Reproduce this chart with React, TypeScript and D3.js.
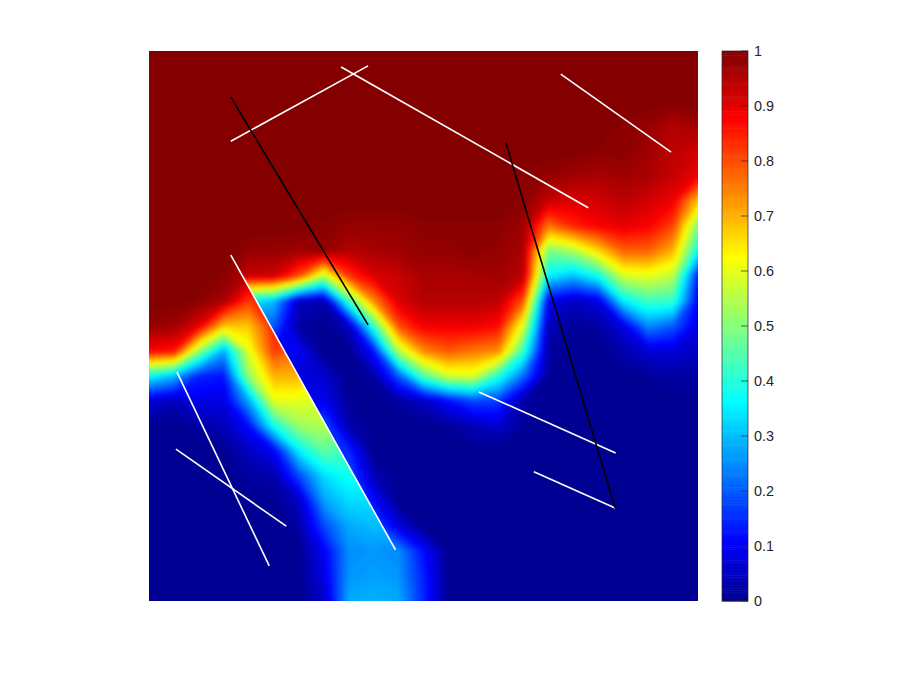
import React from "react";
import * as d3 from "d3";

const W = 900, H = 675;
const PLOT = { left: 149, right: 698, top: 51, bottom: 601 };
const BAR = { left: 722, right: 748 };

// Field sampled on a 23 x 23 grid (percent), right of the long fracture
const mainRows: number[][] = [
  [100,100,100,100,100,100,100,100,100,100,100,100,100,100,100,100,100,100,100,100,100,100,100],
  [100,100,100,100,100,100,100,100,100,100,100,100,100,100,100,100,100,100,100,100,100,100,100],
  [100,100,100,100,100,100,100,100,100,100,100,100,100,100,100,100,100,100,100,100,100,100,100],
  [100,100,100,100,100,100,100,100,100,100,100,100,100,100,100,100,100,100,100,99,98,95,97],
  [100,100,100,100,100,100,100,100,100,100,100,100,100,100,100,100,100,100,99,99,97,94,92],
  [100,100,100,100,100,100,100,100,100,100,100,100,100,100,100,99,98,97,96,97,96,93,89],
  [100,100,100,100,100,100,100,100,100,100,100,100,100,100,100,99,93,91,92,94,92,89,68],
  [100,100,100,100,100,100,100,99,98,98,98,99,99,99,99,97,76,84,88,90,88,81,49],
  [100,100,100,100,98,98,97,98,95,96,97,98,98,99,98,96,49,54,66,78,78,70,37],
  [100,100,100,99,93,92,80,55,82,91,93,96,96,96,97,94,35,30,38,58,60,56,14],
  [10,10,10,12,35,30,5,3,43,74,91,95,95,95,94,79,10,5,8,35,43,42,10],
  [5,5,5,8,22,20,2,0,5,42,80,89,89,89,87,59,4,1,2,8,25,20,8],
  [5,5,5,6,6,10,10,0,0,13,55,74,79,76,74,42,2,0,0,3,7,7,5],
  [5,5,5,5,5,5,8,6,0,2,20,45,58,59,40,22,1,0,0,0,1,2,2],
  [5,5,5,5,5,5,8,10,1,0,2,5,12,18,17,2,0,0,0,0,0,0,0],
  [5,5,5,5,5,5,8,20,3,0,0,0,1,4,6,1,0,0,0,0,0,0,0],
  [5,5,5,5,5,5,8,15,15,0,0,0,0,0,0,0,0,0,0,0,0,0,0],
  [0,0,0,0,0,0,5,10,20,4,0,0,0,0,0,0,0,0,0,0,0,0,0],
  [0,0,0,0,0,0,5,10,20,12,0,0,0,0,0,0,0,0,0,0,0,0,0],
  [0,0,0,0,0,0,5,10,20,20,8,0,0,0,0,0,0,0,0,0,0,0,0],
  [0,0,0,0,0,0,2,8,25,26,25,12,0,0,0,0,0,0,0,0,0,0,0],
  [0,0,0,0,0,0,0,5,26,27,26,14,0,0,0,0,0,0,0,0,0,0,0],
  [0,0,0,0,0,0,0,2,28,29,28,15,0,0,0,0,0,0,0,0,0,0,0],
];

// Field left of the long fracture: 12 columns, from the eighth row downward
const leftRows: number[][] = [
  [100,100,100,100,100,100,100,99,98,98,98,99],
  [100,100,100,100,98,98,97,95,95,96,97,98],
  [100,100,100,99,95,92,90,90,90,91,93,96],
  [100,100,99,96,82,85,85,80,80,80,80,80],
  [98,97,90,68,68,84,80,75,70,70,70,70],
  [88,86,52,28,60,82,76,70,65,60,55,55],
  [37,30,14,13,52,70,70,62,60,55,50,50],
  [7,4,9,8,28,60,60,58,55,50,45,45],
  [0,0,2,4,12,38,52,55,50,47,42,40],
  [0,0,0,0,5,10,35,46,43,42,38,35],
  [0,0,0,0,2,3,18,33,38,37,34,30],
  [0,0,0,0,0,0,5,27,33,33,30,25],
  [0,0,0,0,0,0,2,18,28,30,29,20],
  [0,0,0,0,0,0,0,10,25,26,25,12],
  [0,0,0,0,0,0,0,8,26,27,26,14],
  [0,0,0,0,0,0,0,5,28,29,28,15],
];
const leftRowOffset = 7;

// Fracture segments in unit coordinates: x1, y1, x2, y2
const whiteSegments: number[][] = [
  [0.149, 0.836, 0.399, 0.973],
  [0.35, 0.971, 0.8, 0.715],
  [0.75, 0.958, 0.951, 0.816],
  [0.149, 0.629, 0.449, 0.093],
  [0.051, 0.416, 0.219, 0.064],
  [0.049, 0.276, 0.25, 0.136],
  [0.601, 0.38, 0.85, 0.269],
  [0.701, 0.235, 0.849, 0.169],
];
const blackSegments: number[][] = [
  [0.149, 0.916, 0.399, 0.502],
  [0.65, 0.833, 0.849, 0.169],
];
const longFracture = whiteSegments[3];

const colorTicks = [0, 0.1, 0.2, 0.3, 0.4, 0.5, 0.6, 0.7, 0.8, 0.9, 1];
const jetStops = [0, 0.11, 0.365, 0.625, 0.875, 1];
const jetColors = ["#00008f", "#0000ff", "#00ffff", "#ffff00", "#ff0000", "#800000"];

const jet = d3.scaleLinear<string>().domain(jetStops).range(jetColors).interpolate(d3.interpolateRgb).clamp(true);
const x = d3.scaleLinear().domain([0, 1]).range([PLOT.left, PLOT.right]);
const y = d3.scaleLinear().domain([0, 1]).range([PLOT.bottom, PLOT.top]);
const colX = d3.scaleLinear().domain([0, 22]).range([PLOT.left, PLOT.right]);
const rowY = d3.scaleLinear().domain([0, 22]).range([PLOT.top, PLOT.bottom]);
const barY = d3.scaleLinear().domain([0, 1]).range([PLOT.bottom, PLOT.top]);

const levels = d3.range(0, 128).map((i) => i / 128);

function fieldPaths(rows: number[][], rowOffset: number) {
  const ny = rows.length, nx = rows[0].length;
  const flat = rows.flat().map((v) => v / 100);
  const gen = d3.contours().size([nx, ny]).thresholds(levels).smooth(true);
  const path = d3.geoPath(
    d3.geoTransform({
      point(px: number, py: number) {
        (this as any).stream.point(colX(px - 0.5), rowY(py - 0.5 + rowOffset));
      },
    })
  );
  return gen(flat).map((c) => ({ d: path(c as any) || "", fill: jet(c.value + 1 / 256) }));
}

const mainField = fieldPaths(mainRows, 0);
const leftField = fieldPaths(leftRows, leftRowOffset);

const leftClip = [
  [x(0) - 1, rowY(7.6)],
  [x(longFracture[0]), y(longFracture[1])],
  [x(longFracture[2]), y(longFracture[3])],
  [x(longFracture[2]), y(0) + 1],
  [x(0) - 1, y(0) + 1],
].map((p) => p.join(",")).join(" ");

const barCells = d3.range(256);
const font = "'Liberation Sans', Arial, Helvetica, sans-serif";
const ink = "#262626";

export default function App() {
  return (
    <svg width={W} height={H} style={{ position: "absolute", left: 0, top: 0, display: "block", background: "#fff" }}>
      <defs>
        <clipPath id="plot">
          <rect x={PLOT.left} y={PLOT.top} width={PLOT.right - PLOT.left} height={PLOT.bottom - PLOT.top} />
        </clipPath>
        <clipPath id="left">
          <polygon points={leftClip} />
        </clipPath>
        <filter id="soft" x="-5%" y="-5%" width="110%" height="110%" colorInterpolationFilters="sRGB">
          <feGaussianBlur stdDeviation="2" />
        </filter>
      </defs>
      <g clipPath="url(#plot)">
        <g filter="url(#soft)">
          {mainField.map((c, i) => <path key={i} d={c.d} fill={c.fill} />)}
        </g>
        <g clipPath="url(#left)">
          <g filter="url(#soft)">
            {leftField.map((c, i) => <path key={i} d={c.d} fill={c.fill} />)}
          </g>
        </g>
      </g>
      {whiteSegments.map((s, i) => (
        <line key={i} x1={x(s[0])} y1={y(s[1])} x2={x(s[2])} y2={y(s[3])} stroke="#fff" strokeWidth={1.6} />
      ))}
      {blackSegments.map((s, i) => (
        <line key={i} x1={x(s[0])} y1={y(s[1])} x2={x(s[2])} y2={y(s[3])} stroke="#000" strokeWidth={1.6} />
      ))}
      <g>
        {barCells.map((i) => (
          <rect
            key={i}
            x={BAR.left}
            width={BAR.right - BAR.left}
            y={barY((i + 1) / 256)}
            height={barY(i / 256) - barY((i + 1) / 256) + 0.5}
            fill={jet((i + 0.5) / 256)}
          />
        ))}
        <rect
          x={BAR.left}
          y={PLOT.top}
          width={BAR.right - BAR.left}
          height={PLOT.bottom - PLOT.top}
          fill="none"
          stroke={ink}
          strokeWidth={0.7}
        />
        {colorTicks.map((t) => (
          <g key={t}>
            <line x1={BAR.right - 7} x2={BAR.right} y1={barY(t)} y2={barY(t)} stroke={ink} strokeWidth={0.7} />
            <text x={BAR.right + 6} y={barY(t)} dy="0.36em" fontFamily={font} fontSize={14.4} fill={ink}>
              {String(t)}
            </text>
          </g>
        ))}
      </g>
    </svg>
  );
}
